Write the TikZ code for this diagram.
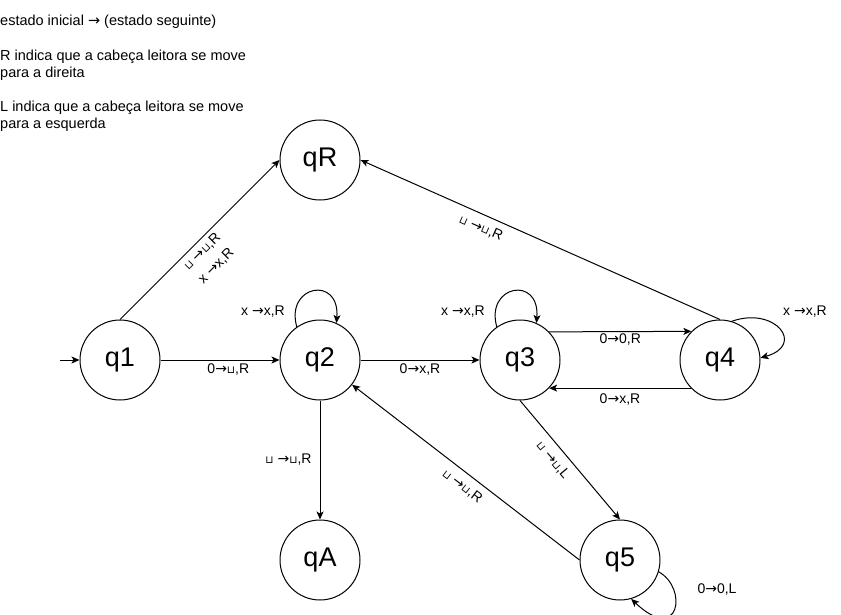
\documentclass[tikz,border=0pt]{standalone}
\usepackage{fontspec}
\usepackage{graphicx}
\setmainfont{Liberation Sans}
\newfontfamily\symfont{DejaVu Sans}
\usetikzlibrary{arrows.meta}
% blank tape symbol and transition arrow
\newcommand{\tblank}{{\symfont\scalebox{0.75}{⊔}}}
\newcommand{\tarr}{{\symfont →}}

\begin{document}
\begin{tikzpicture}[x=1pt,y=-1pt,
  state/.style={circle,draw,line width=1pt,minimum size=80pt,inner sep=0pt,
    font=\fontsize{27}{32}\selectfont},
  trans/.style={draw,line width=1pt,-{Stealth[length=8pt,width=7pt,inset=2pt]}},
  lbl/.style={font=\fontsize{14}{15}\selectfont,inner sep=1pt},
  note/.style={font=\fontsize{14.5}{17}\selectfont,anchor=base west,inner sep=0pt}]
\useasboundingbox (0,0) rectangle (841,615);

% legend
\node[note] (n1) at (0,26) {estado inicial {\symfont →} (estado seguinte)};
\node[note] (n2) at (0,61) {R indica que a cabeça leitora se move};
\node[note] (n3) at (0,78) {para a direita};
\node[note] (n4) at (0,112) {L indica que a cabeça leitora se move};
\node[note] (n5) at (0,129) {para a esquerda};

% states
\node[state] (q1) at (120,360) {q1};
\node[state] (q2) at (320,360) {q2};
\node[state] (q3) at (520,360) {q3};
\node[state] (q4) at (720,360) {q4};
\node[state] (qR) at (320,160) {qR};
\node[state] (qA) at (320,560) {qA};
\node[state] (q5) at (620,560) {q5};

% initial arrow
\coordinate (start) at (60,360);
\draw[trans] (start) -- (q1);

% transitions
\draw[trans] (q1) -- node[lbl,below=2pt,pos=0.57] {0\tarr\tblank,R} (q2);
\draw[trans] (q1.north) -- node[lbl,sloped,below=3pt,pos=0.47,align=center]
  {\tblank\ \tarr\tblank,R\\[5pt]x \tarr x,R} (qR.west);
\draw[trans] (q4.north) -- node[lbl,sloped,below=6pt,pos=0.65]
  {\tblank\ \tarr\tblank,R} (qR.east);
\draw[trans] (q2) -- node[lbl,left=7pt] {\tblank\ \tarr\tblank,R} (qA);
\draw[trans] (q2) -- node[lbl,below=2pt] {0\tarr x,R} (q3);
\draw[trans] (q3.44.4) -- node[lbl,below=1pt] {0\tarr 0,R} (q4.135.6);
\draw[trans] (q4.224.4) -- node[lbl,below=4pt] {0\tarr x,R} (q3.-44.4);
\draw[trans] (q3.south) -- node[lbl,sloped,below=6pt,pos=0.43]
  {\tblank\ \tarr\tblank,L} (q5.north);
\draw[trans] (q5.west) -- node[lbl,sloped,below=6pt,pos=0.48]
  {\tblank\ \tarr\tblank,R} (q2);

% self loops
\draw[trans] (q2.125) .. controls (285,285) and (340,275) .. (q2.66);
\draw[trans] (q3.125) .. controls (485,285) and (540,275) .. (q3.66);
\draw[trans] (q4.73) .. controls (775,306) and (806,345) .. (q4.3);
\draw[trans] (q5.-17) .. controls (688,588) and (680,645) .. (q5.-74);

\node[lbl] (l2) at (263,312) {x \tarr x,R};
\node[lbl] (l3) at (463,312) {x \tarr x,R};
\node[lbl] (l4) at (805,312) {x \tarr x,R};
\node[lbl] (l5) at (717,590) {0\tarr 0,L};
\end{tikzpicture}
\end{document}
